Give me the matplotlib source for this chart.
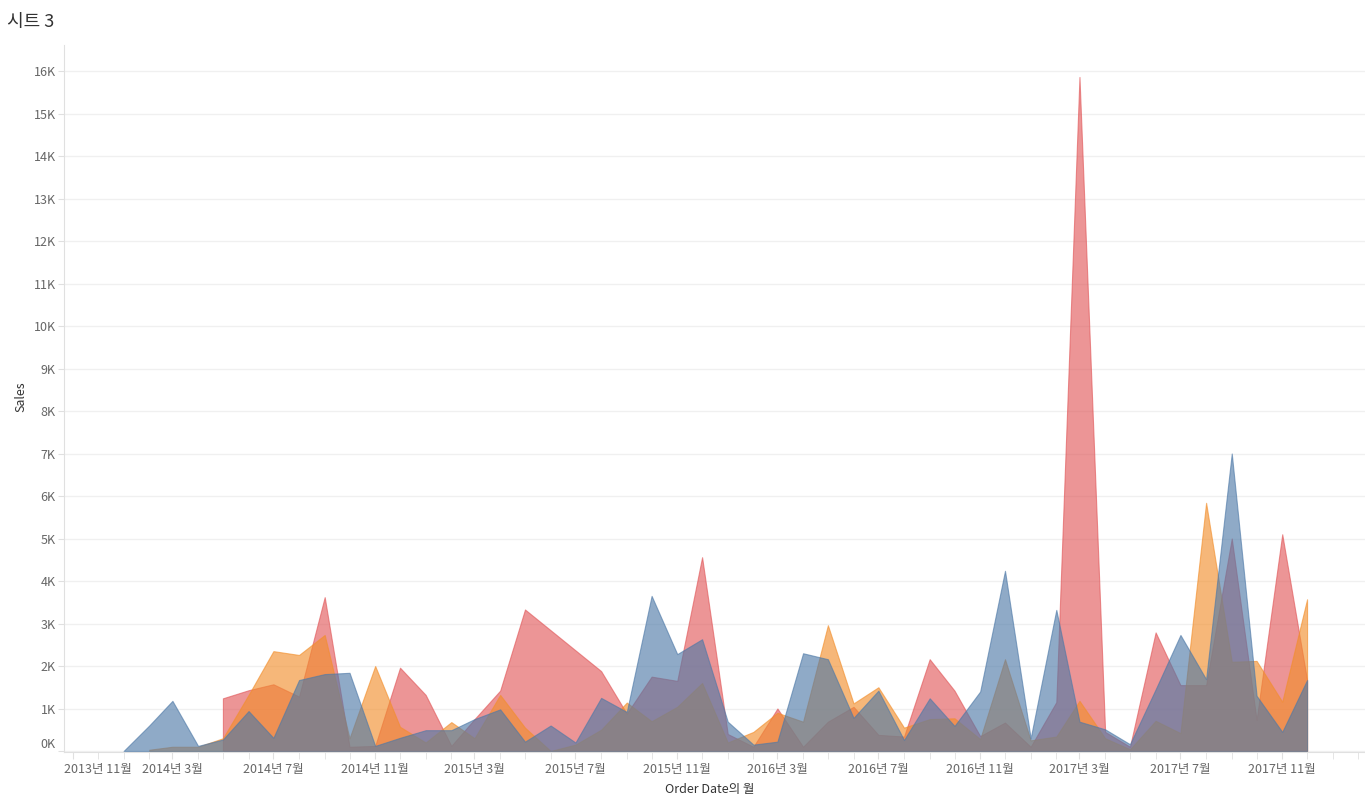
import numpy as np
import pandas as pd
import matplotlib
matplotlib.use('Agg')
import matplotlib.pyplot as plt
import matplotlib.dates as mdates
import matplotlib.transforms as mtransforms

plt.rcParams['font.family'] = ['Noto Sans CJK KR', 'DejaVu Sans']

# one value per month, 2014-01 .. 2017-12, in thousands of Sales
months = pd.date_range('2014-01-01', '2017-12-01', freq='MS')
nan = np.nan

blue_sales = [0.0, 0.6, 1.18, 0.12, 0.27, 0.94, 0.31, 1.67, 1.81, 1.84, 0.12, 0.31,
              0.49, 0.49, 0.75, 0.98, 0.22, 0.6, 0.2, 1.25, 0.92, 3.65, 2.28, 2.63,
              0.69, 0.15, 0.22, 2.3, 2.16, 0.78, 1.42, 0.26, 1.24, 0.59, 1.4, 4.24,
              0.3, 3.32, 0.69, 0.51, 0.16, 1.45, 2.73, 1.69, 7.0, 1.3, 0.45, 1.67]
orange_sales = [nan, 0.03, 0.1, 0.1, 0.3, 1.32, 2.35, 2.26, 2.73, 0.3, 2.0, 0.57,
                0.2, 0.68, 0.3, 1.32, 0.55, 0.0, 0.15, 0.5, 1.14, 0.7, 1.04, 1.6,
                0.2, 0.45, 0.9, 0.69, 2.96, 1.12, 1.5, 0.55, 0.75, 0.77, 0.28, 2.16,
                0.25, 0.34, 1.18, 0.3, 0.04, 0.71, 0.42, 5.84, 2.1, 2.12, 1.16, 3.57]
red_sales = [nan, nan, nan, nan, 1.24, 1.43, 1.57, 1.28, 3.62, 0.1, 0.12, 1.96,
             1.32, 0.12, 0.75, 1.42, 3.33, nan, nan, 1.88, 0.88, 1.75, 1.65, 4.56,
             0.4, 0.1, 1.0, 0.1, 0.69, 1.04, 0.38, 0.34, 2.16, 1.42, 0.35, 0.67,
             0.1, 1.15, 15.86, 0.45, 0.1, 2.79, 1.55, 1.55, 5.0, 0.73, 5.1, 1.67]

series = [(red_sales, '#e15759'), (orange_sales, '#f28e2b'), (blue_sales, '#4e79a7')]

W, H = 1365, 797
fig = plt.figure(figsize=(W / 100, H / 100), dpi=100)
ax = fig.add_axes([64 / W, (H - 752) / H, (W - 64) / W, (752 - 45) / H])

for vals, col in series:
    s = pd.Series(np.array(vals) * 1000, index=months).dropna()
    ax.fill_between(s.index, 0, s.values, color=col, alpha=0.63,
                    edgecolor=col, linewidth=0.8, zorder=2)

ax.set_xlim(pd.Timestamp('2013-10-21'), pd.Timestamp('2018-02-09'))
ax.set_ylim(-23.5, 16612)

# y axis
ax.set_yticks(range(0, 17000, 1000))
ax.set_yticklabels([f'{v // 1000}K' for v in range(0, 17000, 1000)])
ax.grid(axis='y', color='#f0f0f0', linewidth=1, zorder=0)
ax.tick_params(axis='y', length=4, color='#e0e0e0', labelcolor='#666666',
               labelsize=9, pad=2)
zero_lab = ax.get_yticklabels()[0]
zero_lab.set_transform(zero_lab.get_transform() +
                       mtransforms.ScaledTranslation(0, 8 / 100, fig.dpi_scale_trans))

# x axis
major = pd.date_range('2013-11-01', '2017-11-01', freq='4MS')
ax.set_xticks(major)
ax.set_xticklabels([f'{d.year}년 {d.month}월' for d in major])
ax.xaxis.set_minor_locator(mdates.MonthLocator())
ax.tick_params(axis='x', which='both', length=5, color='#e0e0e0',
               labelcolor='#666666', labelsize=9, pad=3)
first = ax.get_xticklabels()[0]
first.set_transform(first.get_transform() +
                    mtransforms.ScaledTranslation(25 / 100, 0, fig.dpi_scale_trans))

for side in ['top', 'right']:
    ax.spines[side].set_visible(False)
for side in ['left', 'bottom']:
    ax.spines[side].set_color('#e0e0e0')

fig.text(7 / W, 1 - 22 / H, '시트 3', fontsize=13, color='#333333',
         ha='left', va='center')
fig.text(21 / W, 1 - 397 / H, 'Sales', fontsize=9, color='#333333',
         rotation=90, ha='center', va='center')
fig.text(710 / W, 1 - 790 / H, 'Order Date의 월', fontsize=9, color='#333333',
         ha='center', va='center')

fig.savefig('out.png', dpi=100)
